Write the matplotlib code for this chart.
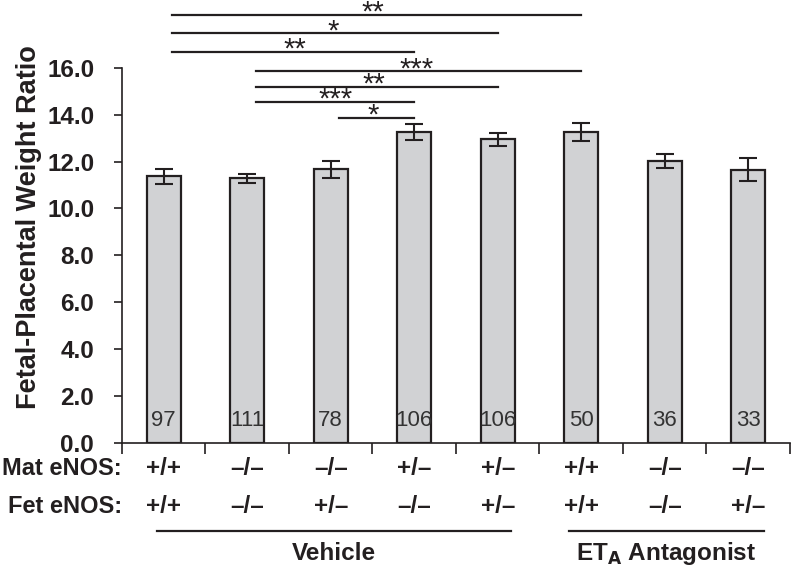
import numpy as np
import matplotlib.pyplot as plt
from matplotlib.transforms import blended_transform_factory

plt.rcParams['font.family'] = ['Liberation Sans', 'DejaVu Sans']

# data
ratio = [11.37, 11.29, 11.67, 13.27, 12.95, 13.26, 12.02, 11.64]
sem = [0.31, 0.19, 0.36, 0.35, 0.28, 0.37, 0.28, 0.49]
n_counts = ["97", "111", "78", "106", "106", "50", "36", "33"]
mat_enos = ["+/+", "\u2013/\u2013", "\u2013/\u2013", "+/\u2013", "+/\u2013", "+/+", "\u2013/\u2013", "\u2013/\u2013"]
fet_enos = ["+/+", "\u2013/\u2013", "+/\u2013", "\u2013/\u2013", "+/\u2013", "+/+", "\u2013/\u2013", "+/\u2013"]

# significance brackets: (from group, to group, height, stars, star x)
sig_pairs = [(0, 5), (0, 4), (0, 3), (1, 5), (1, 4), (1, 3), (2, 3)]
sig_heights = [18.24, 17.46, 16.67, 15.84, 15.19, 14.54, 13.87]
sig_stars = ["**", "*", "**", "***", "**", "***", "*"]
sig_text_x = [2.51, 2.03, 1.57, 3.03, 2.52, 2.06, 2.51]

ink = '#231f20'

fig = plt.figure(figsize=(7.91, 5.67), dpi=100)
ax = fig.add_axes([0.1542, 0.2187, 0.8445, 0.6619])

x = np.arange(len(ratio))
ax.bar(x, ratio, width=0.41, color='#d1d2d4', edgecolor=ink, linewidth=1.6, zorder=2)
ax.errorbar(x, ratio, yerr=sem, fmt='none', ecolor=ink, elinewidth=1.5,
            capsize=6.5, capthick=1.5, zorder=3)

for xi, c in zip(x, n_counts):
    ax.text(xi, 0.98, c, ha='center', va='center', fontsize=16, color='#333333', zorder=4)

ax.set_xlim(-0.5, 7.5)
ax.set_ylim(0, 16)
ax.set_yticks(np.arange(0, 17, 2))
ax.set_yticklabels([f"{v:.1f}" for v in np.arange(0, 17, 2)], fontsize=17.5,
                   fontweight='bold', color=ink)
ax.tick_params(axis='y', length=6, width=1.2, color=ink, pad=14)
ax.set_xticks(np.arange(-0.5, 8, 1))
ax.set_xticklabels([])
ax.tick_params(axis='x', length=8, width=1.2, color=ink)
for s in ['top', 'right']:
    ax.spines[s].set_visible(False)
for s in ['left', 'bottom']:
    ax.spines[s].set_color(ink)
    ax.spines[s].set_linewidth(1.2)

ax.set_ylabel("Fetal-Placental Weight Ratio", fontsize=19.5, fontweight='bold',
              color=ink)
ax.yaxis.set_label_coords(-0.12, 0.575)

# significance bars
for (a, b), h, st, tx in zip(sig_pairs, sig_heights, sig_stars, sig_text_x):
    ax.plot([a + 0.1, b], [h, h], color=ink, lw=1.6, clip_on=False)
    ax.text(tx, h - 0.24, st, ha='center', va='baseline', fontsize=21,
            color=ink, clip_on=False)

# genotype rows
trans = blended_transform_factory(ax.transData, ax.transAxes)
ax.text(-0.5, -0.069, "Mat eNOS:", transform=trans, ha='right', va='center',
        fontsize=17, fontweight='bold', color=ink)
ax.text(-0.5, -0.168, "Fet eNOS:", transform=trans, ha='right', va='center',
        fontsize=17, fontweight='bold', color=ink)
for xi, m, f in zip(x, mat_enos, fet_enos):
    ax.text(xi, -0.069, m, transform=trans, ha='center', va='center',
            fontsize=17.5, fontweight='bold', color=ink)
    ax.text(xi, -0.168, f, transform=trans, ha='center', va='center',
            fontsize=17.5, fontweight='bold', color=ink)

# treatment groups
ax.plot([-0.084, 4.16], [-0.234, -0.234], transform=trans, color=ink, lw=1.6, clip_on=False)
ax.plot([4.85, 7.19], [-0.234, -0.234], transform=trans, color=ink, lw=1.6, clip_on=False)
ax.text(2.04, -0.295, "Vehicle", transform=trans, ha='center', va='center',
        fontsize=17.5, fontweight='bold', color=ink)
ax.text(6.01, -0.295, r"ET$_\mathbf{A}$ Antagonist", transform=trans, ha='center',
        va='center', fontsize=17.5, fontweight='bold', color=ink)

fig.savefig("out.png", dpi=100)
